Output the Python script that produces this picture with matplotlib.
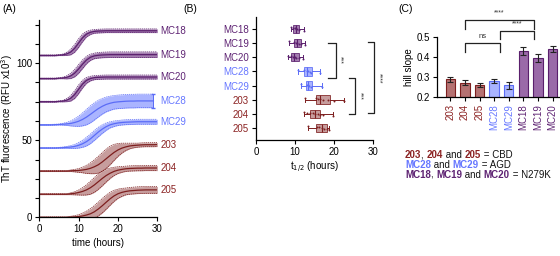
import numpy as np
import matplotlib
matplotlib.use("Agg")
import matplotlib.pyplot as plt

plt.rcParams['font.family'] = ['Liberation Sans', 'DejaVu Sans']
plt.rcParams['font.size'] = 7
plt.rcParams['axes.linewidth'] = 0.9

# colours per group
red_line, red_fill = '#7d1f1f', '#b98585'
blue_line, blue_fill = '#5b6cf6', '#95a2ff'
purp_line, purp_fill = '#5a1f6c', '#8d5c9c'

# ---------------- panel A : ThT curves (RFU x10^3), hours 0..30 ----------------
hours = list(range(31))
nan = float('nan')

curve_names = ['MC18', 'MC19', 'MC20', 'MC28', 'MC29', '203', '204', '205']
curve_group = ['p', 'p', 'p', 'b', 'b', 'r', 'r', 'r']

mc18 = [105, 105, 105, 105, 105, 105.2, 105.4, 106.0, 107.2, 109.6, 113.0, 116.4, 118.8, 120.0, 120.6,
        120.8, 120.9, 121, 121, 121, 121, 121, 121, 121, 121, 121, 121, 121, 121, 121, 121]
mc18_sd = [0.3, 0.3, 0.3, 0.3, 0.3, 0.3, 0.5, 1.0, 1.8, 2.5, 2.8, 2.5, 1.8, 1.4, 1.2,
           1.2, 1.2, 1.2, 1.2, 1.2, 1.2, 1.2, 1.2, 1.2, 1.2, 1.2, 1.2, 1.2, 1.2, 1.2, 1.2]
mc19 = [90, 90, 90, 90, 90, 90.2, 90.4, 90.8, 91.7, 93.5, 96.2, 99.3, 102.0, 103.8, 104.7,
        105.1, 105.3, 105.4, 105.5, 105.5, 105.5, 105.5, 105.5, 105.5, 105.5, 105.5, 105.5, 105.5, 105.5, 105.5, 105.5]
mc19_sd = [0.3, 0.3, 0.3, 0.3, 0.3, 0.3, 0.5, 1.0, 1.7, 2.4, 2.8, 2.8, 2.4, 2.0, 1.8,
           1.8, 1.8, 1.8, 1.8, 1.8, 1.8, 1.8, 1.8, 1.8, 1.8, 1.8, 1.8, 1.8, 1.8, 1.8, 1.8]
mc20 = [75, 75, 75, 75, 75, 75.2, 75.4, 76.0, 77.2, 79.6, 83.0, 86.4, 88.8, 90.0, 90.6,
        90.8, 90.9, 91, 91, 91, 91, 91, 91, 91, 91, 91, 91, 91, 91, 91, 91]
mc20_sd = [0.3, 0.3, 0.3, 0.3, 0.3, 0.3, 0.5, 1.0, 1.8, 2.5, 2.8, 2.5, 1.9, 1.5, 1.3,
           1.3, 1.3, 1.3, 1.3, 1.3, 1.3, 1.3, 1.3, 1.3, 1.3, 1.3, 1.3, 1.3, 1.3, 1.3, 1.3]
mc28 = [60, 60, 60, 60, 60.1, 60.2, 60.4, 60.6, 60.9, 61.5, 62.3, 63.5, 65.0, 66.8, 68.7,
        70.5, 72.0, 73.2, 74.0, 74.6, 74.9, 75.1, 75.3, 75.4, 75.4, 75.5, 75.5, 75.5, 75.5, 75.5, nan]
mc28_sd = [0.3, 0.3, 0.3, 0.3, 0.3, 0.3, 0.6, 1.0, 1.6, 2.4, 3.3, 4.2, 5.0, 5.5, 5.6,
           5.4, 5.1, 4.8, 4.6, 4.4, 4.4, 4.4, 4.4, 4.4, 4.4, 4.4, 4.4, 4.4, 4.4, 4.4, nan]
mc29 = [45, 45, 45, 45, 45, 45.1, 45.2, 45.4, 45.6, 46.0, 46.7, 47.7, 49.1, 50.9, 53.1,
        55.3, 57.2, 58.8, 60.0, 60.7, 61.2, 61.5, 61.7, 61.8, 61.9, 62.0, 62.0, 62.0, 62.0, 62.0, 62.0]
mc29_sd = [0.3, 0.3, 0.3, 0.3, 0.3, 0.3, 0.4, 0.6, 0.9, 1.3, 1.8, 2.3, 2.8, 3.1, 3.2,
           3.1, 2.8, 2.4, 2.0, 1.8, 1.6, 1.6, 1.6, 1.6, 1.6, 1.6, 1.6, 1.6, 1.6, 1.6, 1.6]
s203 = [30, 30, 30, 30, 30, 30, 30, 30, 30.2, 30.3, 30.4, 30.7, 31.1, 31.8, 32.8,
        34.1, 35.9, 38.0, 40.1, 42.1, 43.7, 44.9, 45.7, 46.3, 46.6, 46.8, 47.0, 47.1, 47.1, 47.1, 47.2]
s203_sd = [0.3, 0.3, 0.3, 0.3, 0.3, 0.3, 0.3, 0.3, 0.5, 0.8, 1.2, 1.8, 2.6, 3.5, 4.5,
           5.4, 6.0, 6.3, 6.0, 5.2, 4.2, 3.2, 2.4, 1.8, 1.5, 1.3, 1.3, 1.3, 1.3, 1.3, 1.3]
s204 = [15, 15, 15, 15, 15, 15, 15, 15, 15.3, 15.6, 16.1, 16.8, 17.8, 19.2, 21.0,
        23.1, 25.2, 27.1, 28.6, 29.8, 30.6, 31.1, 31.5, 31.7, 31.8, 31.9, 31.9, 32.0, 32.0, 32.0, 32.0]
s204_sd = [0.3, 0.3, 0.3, 0.3, 0.3, 0.3, 0.3, 0.3, 0.6, 1.0, 1.6, 2.4, 3.3, 4.2, 4.8,
           5.0, 4.8, 4.2, 3.4, 2.7, 2.2, 1.9, 1.7, 1.7, 1.7, 1.7, 1.7, 1.7, 1.7, 1.7, 1.7]
s205 = [0, 0, 0, 0, 0, 0, 0, 0, 0.2, 0.3, 0.5, 0.9, 1.5, 2.3, 3.6,
        5.4, 7.5, 9.8, 12.0, 13.9, 15.3, 16.2, 16.8, 17.2, 17.4, 17.6, 17.7, 17.8, 17.8, 17.8, 17.8]
s205_sd = [0.3, 0.3, 0.3, 0.3, 0.3, 0.3, 0.3, 0.3, 0.5, 0.8, 1.2, 1.8, 2.5, 3.3, 4.0,
           4.5, 4.7, 4.6, 4.2, 3.6, 3.0, 2.6, 2.2, 2.2, 2.2, 2.2, 2.2, 2.2, 2.2, 2.2, 2.2]

curve_means = [mc18, mc19, mc20, mc28, mc29, s203, s204, s205]
curve_sds = [mc18_sd, mc19_sd, mc20_sd, mc28_sd, mc29_sd, s203_sd, s204_sd, s205_sd]

# ---------------- panel B : t1/2 box plots (hours) ----------------
box_names = ['MC18', 'MC19', 'MC20', 'MC28', 'MC29', '203', '204', '205']
box_group = ['p', 'p', 'p', 'b', 'b', 'r', 'r', 'r']
t_med = [10.3, 10.6, 9.8, 13.2, 13.4, 16.5, 15.2, 16.9]
t_q1 = [9.4, 9.7, 8.9, 12.3, 12.9, 15.5, 13.8, 15.5]
t_q3 = [11.1, 11.5, 11.1, 14.3, 14.3, 19.1, 16.5, 18.3]
t_lo = [9.1, 8.5, 8.3, 10.9, 11.5, 12.7, 12.2, 13.3]
t_hi = [12.2, 12.6, 12.0, 16.3, 16.9, 22.7, 19.8, 18.7]
t_pts = [[9.1, 9.6, 10.0, 10.3, 10.6, 11.0, 12.2],
         [8.5, 9.8, 10.3, 10.6, 11.0, 11.6, 12.6],
         [8.3, 9.0, 9.6, 9.9, 10.4, 11.0, 12.0],
         [10.9, 12.4, 13.0, 13.3, 13.8, 14.2, 16.3],
         [11.5, 13.0, 13.3, 13.5, 14.0, 16.9],
         [12.7, 15.4, 15.9, 16.5, 17.3, 18.6, 20.0, 22.7],
         [12.2, 13.0, 13.9, 14.6, 15.2, 15.8, 16.3, 17.1, 19.8],
         [13.3, 15.6, 16.2, 16.9, 17.5, 18.2, 18.7]]

# ---------------- panel C : hill slope ----------------
bar_names = ['203', '204', '205', 'MC28', 'MC29', 'MC18', 'MC19', 'MC20']
bar_group = ['r', 'r', 'r', 'b', 'b', 'p', 'p', 'p']
hill = [0.288, 0.272, 0.260, 0.280, 0.258, 0.430, 0.397, 0.440]
hill_err = [0.012, 0.012, 0.011, 0.009, 0.019, 0.021, 0.020, 0.016]

line_col = {'r': red_line, 'b': blue_line, 'p': purp_line}
fill_col = {'r': red_fill, 'b': blue_fill, 'p': purp_fill}
text_col = {'r': '#8b2222', 'b': '#6677ff', 'p': '#5e2373'}
bar_col = {'r': '#b57272', 'b': '#a9b4ff', 'p': '#9a6aa8'}

fig = plt.figure(figsize=(5.6, 2.56), dpi=100)

# ---- A ----
axA = fig.add_axes([0.070, 0.151, 0.211, 0.771])
t = np.array(hours, dtype=float)
for name, g, m, sd in zip(curve_names, curve_group, curve_means, curve_sds):
    m = np.array(m, dtype=float)
    sd = np.array(sd, dtype=float)
    axA.fill_between(t, m - sd, m + sd, color=fill_col[g], alpha=0.8, lw=0)
    axA.plot(t, m - sd, color=line_col[g], lw=0.5, ls=(0, (2, 1)))
    axA.plot(t, m + sd, color=line_col[g], lw=0.5, ls=(0, (2, 1)))
    axA.plot(t, m, color=line_col[g], lw=0.9)
    last = np.where(~np.isnan(m))[0][-1]
    if last < len(m) - 1:
        axA.errorbar(t[last], m[last], yerr=sd[last], color=line_col[g], lw=0.7, capsize=1.5)
    axA.text(30.7, m[last], name, color=text_col[g], fontsize=7, va='center', ha='left')
axA.set_xlim(0, 30)
axA.set_ylim(0, 128)
axA.set_xticks([0, 10, 20, 30])
axA.set_yticks([0, 50, 100])
axA.set_yticks(np.arange(0, 126, 12.5), minor=True)
axA.tick_params(which='both', length=3, width=0.8, pad=2)
axA.spines[['top', 'right']].set_visible(False)
axA.set_xlabel('time (hours)', labelpad=3)
axA.set_ylabel('ThT fluorescence (RFU x10$^3$)')
axA.yaxis.set_label_coords(-0.205, 0.5)
fig.text(0.004, 0.955, '(A)', fontsize=7.5)

# ---- B ----
axB = fig.add_axes([0.457, 0.453, 0.209, 0.481])
pos = np.arange(len(box_names))
for i, g in enumerate(box_group):
    st = dict(med=t_med[i], q1=t_q1[i], q3=t_q3[i], whislo=t_lo[i], whishi=t_hi[i], fliers=[])
    axB.bxp([st], positions=[pos[i]], vert=False, widths=0.6, patch_artist=True,
            showfliers=False,
            boxprops=dict(facecolor=fill_col[g], edgecolor=line_col[g], lw=0.7, alpha=0.8),
            medianprops=dict(color=line_col[g], lw=0.8),
            whiskerprops=dict(color=line_col[g], lw=0.7),
            capprops=dict(color=line_col[g], lw=0.7))
    axB.scatter(t_pts[i], np.full(len(t_pts[i]), pos[i]) + np.linspace(-0.12, 0.12, len(t_pts[i])),
                s=2, color=line_col[g], zorder=3, lw=0)
axB.set_ylim(7.85, -0.85)
axB.set_xlim(0, 30)
axB.set_xticks([0, 10, 20, 30])
axB.set_yticks(pos)
axB.set_yticklabels(box_names)
for lab, g in zip(axB.get_yticklabels(), box_group):
    lab.set_color(text_col[g])
axB.tick_params(length=3, width=0.8, pad=2)
axB.spines[['top', 'right']].set_visible(False)
axB.set_xlabel('t$_{1/2}$ (hours)', labelpad=2)
# significance brackets
b_brackets = [(20.4, 18.6, 1.0, 3.45, '***', 21.6),
              (25.4, 23.8, 3.45, 6.0, '***', 26.6),
              (30.3, 28.7, 0.95, 5.95, '****', 31.5)]
for xv, xa, y0, y1, lab, xt in b_brackets:
    axB.plot([xa, xv, xv, xa], [y0, y0, y1, y1], color='#222222', lw=0.9, clip_on=False)
    axB.text(xt, (y0 + y1) / 2, lab, rotation=270, fontsize=5, ha='center', va='center', color='#333333')
fig.text(0.327, 0.955, '(B)', fontsize=7.5)

# ---- C ----
axC = fig.add_axes([0.780, 0.621, 0.22, 0.234])
xc = np.arange(len(bar_names))
for i, g in enumerate(bar_group):
    axC.bar(xc[i], hill[i], width=0.64, color=bar_col[g], edgecolor=line_col[g], lw=0.8)
axC.errorbar(xc, hill, yerr=hill_err, fmt='none', ecolor='#222222', elinewidth=0.8, capsize=2, capthick=0.8)
axC.set_xlim(-0.92, 7.5)
axC.set_ylim(0.2, 0.5)
axC.set_yticks([0.2, 0.3, 0.4, 0.5])
axC.set_xticks(xc)
axC.set_xticklabels(bar_names, rotation=90)
for lab, g in zip(axC.get_xticklabels(), bar_group):
    lab.set_color(text_col[g])
axC.tick_params(length=3, width=0.8, pad=2)
axC.spines[['top', 'right']].set_visible(False)
axC.set_ylabel('hill slope', labelpad=2)
c_brackets = [(1.0, 3.4, 0.472, 0.045, 'ns', 0.488),
              (3.4, 5.75, 0.532, 0.04, '****', 0.548),
              (1.0, 5.75, 0.585, 0.042, '****', 0.602)]
for x0, x1, yv, leg, lab, yt in c_brackets:
    axC.plot([x0, x0, x1, x1], [yv - leg, yv, yv, yv - leg], color='#222222', lw=0.9, clip_on=False)
    axC.text((x0 + x1) / 2, yt, lab, fontsize=5.5 if lab == 'ns' else 5, ha='center', va='bottom',
             color='#333333', clip_on=False)
fig.text(0.711, 0.955, '(C)', fontsize=7.5)

# ---- group key, pieces chained one after another ----
key_lines = [[('203', 'r'), (', ', None), ('204', 'r'), (' and ', None), ('205', 'r'), (' = CBD', None)],
             [('MC28', 'b'), (' and ', None), ('MC29', 'b'), (' = AGD', None)],
             [('MC18', 'p'), (', ', None), ('MC19', 'p'), (' and ', None), ('MC20', 'p'), (' = N279K', None)]]
key_y = [0.375, 0.336, 0.297]
for parts, yk in zip(key_lines, key_y):
    prev = None
    for s, g in parts:
        kw = dict(fontsize=7, va='bottom', ha='left')
        if g is not None:
            kw.update(color=text_col[g], fontweight='bold')
        else:
            kw.update(color='#111111')
        if prev is None:
            prev = fig.text(0.723, yk, s, **kw)
        else:
            prev = fig.add_artist(plt.Annotation(s, xy=(1, 0), xycoords=prev, **kw))

fig.savefig('out.png', dpi=100)
